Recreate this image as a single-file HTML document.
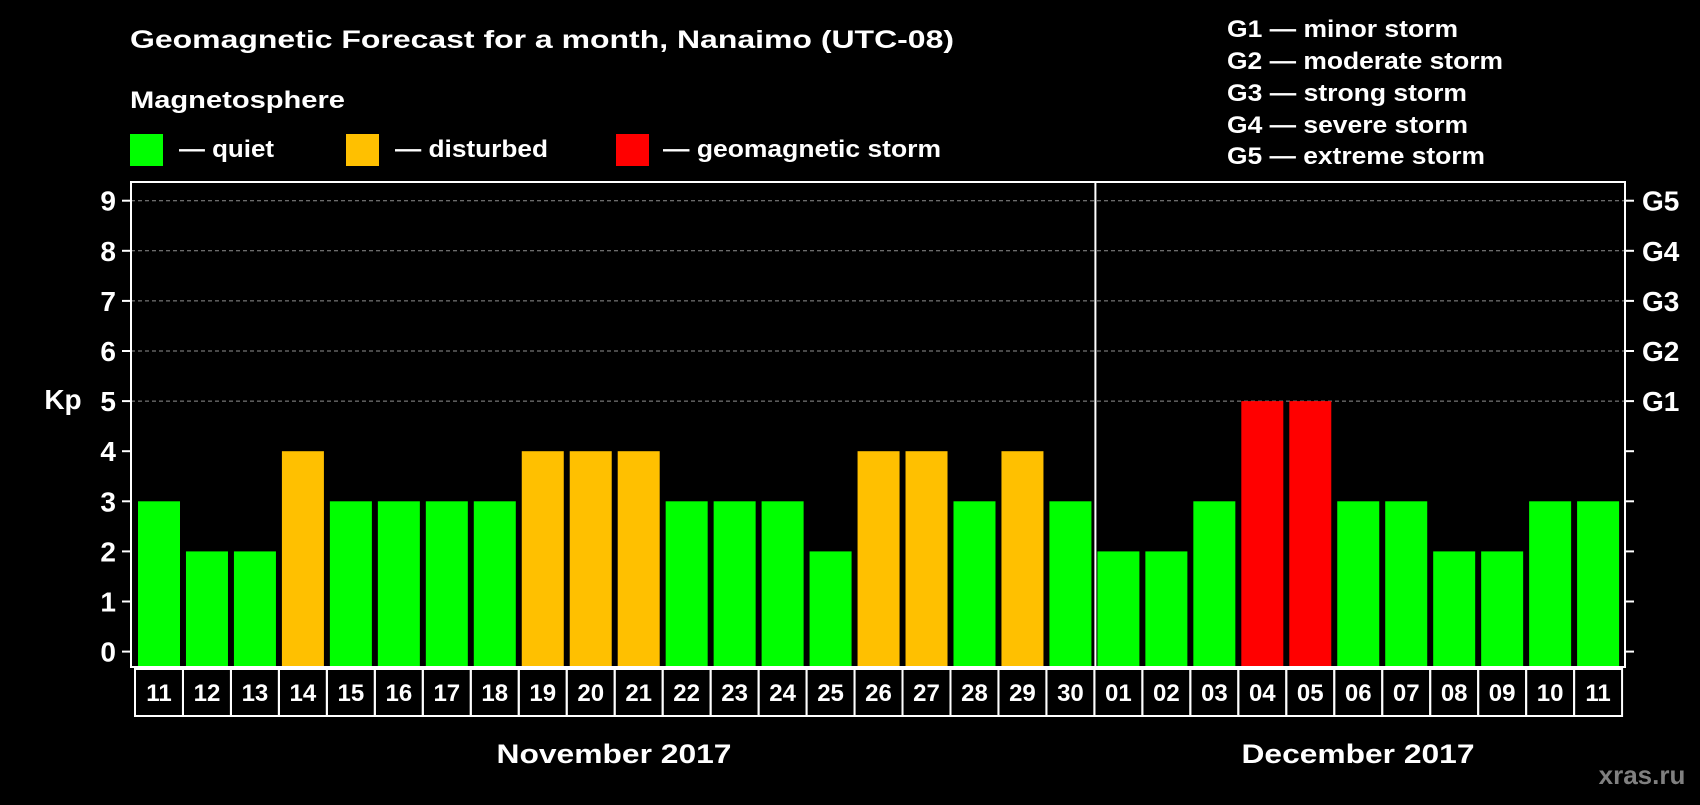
<!DOCTYPE html>
<html><head><meta charset="utf-8"><style>
html,body{margin:0;padding:0;background:#000;}
svg text{font-family:"Liberation Sans",Arial,sans-serif;font-weight:bold;fill:#fff;}
</style></head><body>
<svg id="chart" width="1700" height="800" viewBox="0 0 1700 800">
<rect width="1700" height="800" fill="#000"/>
<text x="130" y="48" font-size="25" textLength="824" lengthAdjust="spacingAndGlyphs">Geomagnetic Forecast for a month, Nanaimo (UTC-08)</text>
<text x="130" y="108" font-size="24" textLength="215" lengthAdjust="spacingAndGlyphs">Magnetosphere</text>
<rect x="130" y="134" width="33" height="32" fill="#00ff00"/>
<text x="179" y="157" font-size="24" textLength="95" lengthAdjust="spacingAndGlyphs">— quiet</text>
<rect x="346" y="134" width="33" height="32" fill="#ffc000"/>
<text x="395" y="157" font-size="24" textLength="153" lengthAdjust="spacingAndGlyphs">— disturbed</text>
<rect x="616" y="134" width="33" height="32" fill="#ff0000"/>
<text x="663" y="157" font-size="24" textLength="278" lengthAdjust="spacingAndGlyphs">— geomagnetic storm</text>
<g font-size="24">
<text x="1227" y="37" textLength="231" lengthAdjust="spacingAndGlyphs">G1 — minor storm</text>
<text x="1227" y="69" textLength="276" lengthAdjust="spacingAndGlyphs">G2 — moderate storm</text>
<text x="1227" y="101" textLength="240" lengthAdjust="spacingAndGlyphs">G3 — strong storm</text>
<text x="1227" y="133" textLength="241" lengthAdjust="spacingAndGlyphs">G4 — severe storm</text>
<text x="1227" y="164" textLength="258" lengthAdjust="spacingAndGlyphs">G5 — extreme storm</text>
</g>
<text x="63" y="409" font-size="28" text-anchor="middle">Kp</text>
<g id="grid"></g><g id="bars"></g><g id="axes"></g>
<text x="614" y="763" font-size="27" text-anchor="middle" textLength="235" lengthAdjust="spacingAndGlyphs">November 2017</text>
<text x="1358" y="763" font-size="27" text-anchor="middle" textLength="233" lengthAdjust="spacingAndGlyphs">December 2017</text>
<text x="1642" y="784" font-size="26" text-anchor="middle" style="fill:#808080">xras.ru</text>
</svg>
<script>
const days = ["11","12","13","14","15","16","17","18","19","20","21","22","23","24","25","26","27","28","29","30","01","02","03","04","05","06","07","08","09","10","11"];
const kpValues = [3,2,2,4,3,3,3,3,4,4,4,3,3,3,2,4,4,3,4,3,2,2,3,5,5,3,3,2,2,3,3];
const yTicks = [0,1,2,3,4,5,6,7,8,9];
const gLabels = ["","","","","","G1","G2","G3","G4","G5"];
const monthBreak = 20;

const NS="http://www.w3.org/2000/svg";
const L=131,R=1625,T=182,B=667,Y0=651.6,UNIT=50.1,X0=135,PITCH=47.97,BW=42;
const y=v=>Y0-v*UNIT;
const x=i=>X0+i*PITCH;
function mk(tag,attrs,parent){const e=document.createElementNS(NS,tag);for(const k in attrs)e.setAttribute(k,attrs[k]);parent.appendChild(e);return e;}
const grid=document.getElementById('grid'),bars=document.getElementById('bars'),axes=document.getElementById('axes');
yTicks.forEach(t=>{
  if(t>=5){const g=mk('line',{x1:L,x2:R,y1:y(t),y2:y(t),stroke:'#909090','stroke-width':1,'stroke-dasharray':'4,3'},grid);
  
  }
  const tl=mk('line',{x1:L-9,x2:L,y1:y(t),y2:y(t),stroke:'#fff','stroke-width':2},axes);
  
  
  const tr=mk('line',{x1:R,x2:R+9,y1:y(t),y2:y(t),stroke:'#fff','stroke-width':2},axes);
  
  
  const lb=mk('text',{x:L-15,y:y(t)+10,'font-size':28,'text-anchor':'end'},axes);lb.textContent=t;
  
  
  if(gLabels[t]){const gl=mk('text',{x:R+17,y:y(t)+10,'font-size':28},axes);gl.textContent=gLabels[t];
  
  }
});
kpValues.forEach((v,i)=>{
  const c=v>=5?'#ff0000':(v>=4?'#ffc000':'#00ff00');
  const b=mk('rect',{x:x(i)+3,y:y(v),width:BW,height:B-y(v),fill:c},bars);
  
  
  const bx=mk('rect',{x:x(i),y:669,width:PITCH,height:47,fill:'none',stroke:'#fff','stroke-width':2},axes);
  
  
  const t=mk('text',{x:x(i)+PITCH/2,y:701,'font-size':24,'text-anchor':'middle'},axes);t.textContent=days[i];
  
  
});
const fr=mk('rect',{x:L,y:T,width:R-L,height:B-T,fill:'none',stroke:'#fff','stroke-width':2},axes);


const sx=x(monthBreak)+1;
const sep=mk('line',{x1:sx,x2:sx,y1:T,y2:B,stroke:'#fff','stroke-width':2},axes);


</script>
</body></html>
